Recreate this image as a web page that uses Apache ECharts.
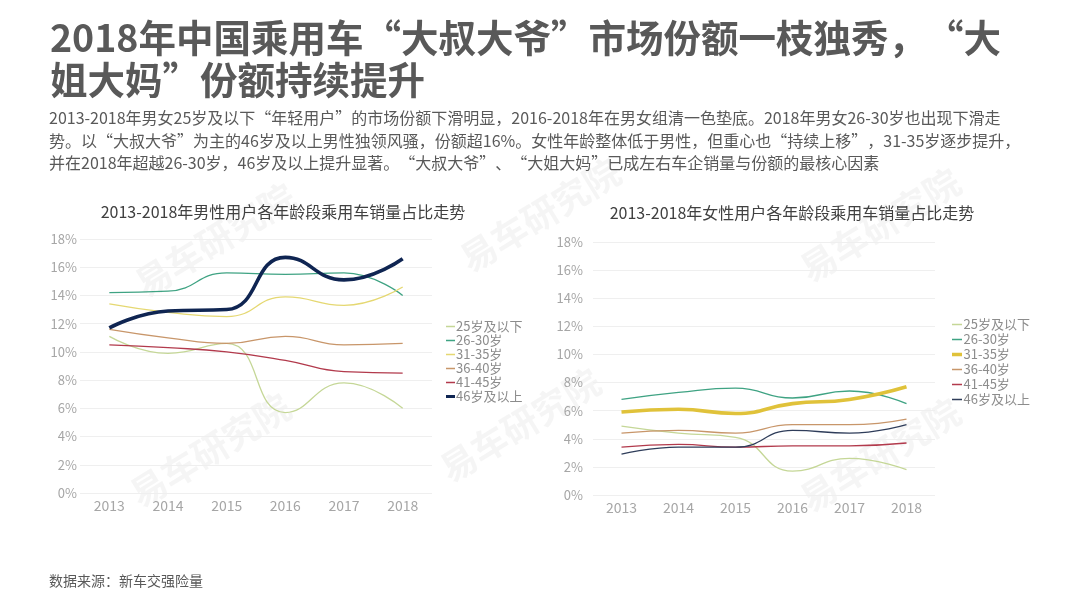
<!DOCTYPE html>
<html>
<head>
<meta charset="utf-8">
<script src="https://cdn.jsdelivr.net/npm/echarts@6/dist/echarts.min.js"></script>
<style>
html,body{margin:0;padding:0;background:#fff;}
#main{position:absolute;left:0;top:0;width:1080px;height:608px;}
#right{position:absolute;left:540px;top:0;width:540px;height:608px;}
</style>
</head>
<body>
<div id="main"></div>
<div id="right"></div>
<script>
// ---- data ----
var years = ['2013', '2014', '2015', '2016', '2017', '2018'];
var seriesNames = ['25岁及以下', '26-30岁', '31-35岁', '36-40岁', '41-45岁', '46岁及以上'];
// male share (%)
var male25 = [11.1, 9.9, 10.6, 5.7, 7.8, 6.0];
var male26 = [14.2, 14.3, 15.6, 15.5, 15.6, 14.0];
var male31 = [13.4, 12.8, 12.5, 13.9, 13.3, 14.6];
var male36 = [11.6, 11.0, 10.6, 11.1, 10.5, 10.6];
var male41 = [10.5, 10.3, 10.0, 9.4, 8.6, 8.5];
var male46 = [11.7, 12.9, 13.0, 16.7, 15.1, 16.6];
// female share (%)
var female25 = [4.9, 4.4, 4.1, 1.7, 2.6, 1.8];
var female26 = [6.8, 7.3, 7.6, 6.9, 7.4, 6.5];
var female31 = [5.9, 6.1, 5.8, 6.5, 6.8, 7.7];
var female36 = [4.4, 4.6, 4.4, 5.0, 5.0, 5.4];
var female41 = [3.4, 3.6, 3.4, 3.5, 3.5, 3.7];
var female46 = [2.9, 3.4, 3.4, 4.6, 4.4, 5.0];

var titleLines = ['2018年中国乘用车“大叔大爷”市场份额一枝独秀，“大', '姐大妈”份额持续提升'];
var subtitleLines = [
  '2013-2018年男女25岁及以下“年轻用户”的市场份额下滑明显，2016-2018年在男女组清一色垫底。2018年男女26-30岁也出现下滑走',
  '势。以“大叔大爷”为主的46岁及以上男性独领风骚，份额超16%。女性年龄整体低于男性，但重心也“持续上移”，31-35岁逐步提升，',
  '并在2018年超越26-30岁，46岁及以上提升显著。“大叔大爷”、“大姐大妈”已成左右车企销量与份额的最核心因素'
];
var chartTitleMale = '2013-2018年男性用户各年龄段乘用车销量占比走势';
var chartTitleFemale = '2013-2018年女性用户各年龄段乘用车销量占比走势';
var sourceText = '数据来源：新车交强险量';
var watermark = '易车研究院';

var FONT = '"Noto Sans CJK SC", "Noto Sans", sans-serif';
var maleColors = ['#c5d797', '#3fa383', '#e5d872', '#c8966a', '#b23a4c', '#0f2552'];
var femaleColors = ['#c5d797', '#3fa383', '#e0c23a', '#c8966a', '#b23a4c', '#2f3d5a'];
var maleWidths = [1.3, 1.3, 1.3, 1.3, 1.3, 3.6];
var femaleWidths = [1.3, 1.3, 3.6, 1.3, 1.3, 1.3];

// legend line icons (10x10 box; degenerate corners fix the box)
var ICON_THIN = 'path://M0,0L0.01,0L0.01,0.01ZM0,4.3L10,4.3L10,5.7L0,5.7ZM10,10L9.99,10L9.99,9.99Z';
var ICON_THICK = 'path://M0,0L0.01,0L0.01,0.01ZM0,3.3L10,3.3L10,6.7L0,6.7ZM10,10L9.99,10L9.99,9.99Z';

function makeSeries(datas, colors, widths) {
  return datas.map(function (d, i) {
    return {
      name: seriesNames[i], type: 'line', data: d, smooth: true, symbol: 'none',
      color: colors[i], lineStyle: { color: colors[i], width: widths[i] }, z: widths[i] > 2 ? 5 : 3
    };
  });
}
function axes(yMargin) {
  return {
    xAxis: {
      type: 'category', data: years, boundaryGap: true,
      axisLine: { show: false }, axisTick: { show: false },
      axisLabel: { color: '#a6a6a6', fontSize: 14, margin: 6, fontFamily: FONT }
    },
    yAxis: {
      type: 'value', min: 0, max: 18, interval: 2,
      axisLine: { show: false }, axisTick: { show: false },
      axisLabel: { formatter: '{value}%', color: '#a6a6a6', fontSize: 13, margin: yMargin, fontFamily: FONT },
      splitLine: { lineStyle: { color: '#efefef', width: 1 } }
    }
  };
}
function legendCfg(left, top, gap, widths, iconW) {
  return {
    orient: 'vertical', left: left, top: top, itemWidth: iconW, itemHeight: 10, itemGap: gap,
    textStyle: { color: '#8c8c8c', fontSize: 13, lineHeight: 10, fontFamily: FONT, padding: [0, 0, 0, -4] },
    data: seriesNames.map(function (n, i) {
      return { name: n, icon: widths[i] > 2 ? ICON_THICK : ICON_THIN };
    })
  };
}
function wm(x, y) {
  return { type: 'text', x: x, y: y, rotation: 0.55, z: -1, silent: true,
    style: { text: watermark, fill: 'rgba(160,160,160,0.10)', fontSize: 36, fontWeight: 'bold', fontFamily: FONT, align: 'center', verticalAlign: 'middle' } };
}

var graphics = [
  wm(215, 240), wm(210, 450), wm(540, 215), wm(520, 425), wm(880, 225), wm(880, 455),
  { type: 'text', x: 50, y: 38, style: { text: titleLines[0], fill: '#595959', fontSize: 37.5, fontWeight: 'bold', fontFamily: FONT, verticalAlign: 'middle' } },
  { type: 'text', x: 50, y: 80, style: { text: titleLines[1], fill: '#595959', fontSize: 37.5, fontWeight: 'bold', fontFamily: FONT, verticalAlign: 'middle' } }
];
subtitleLines.forEach(function (t, i) {
  graphics.push({ type: 'text', x: 49, y: 118 + i * 22.5, style: { text: t, fill: '#595959', fontSize: 16, fontFamily: FONT, verticalAlign: 'middle' } });
});
graphics.push({ type: 'text', x: 283, y: 212, style: { text: chartTitleMale, fill: '#404040', fontSize: 16, fontFamily: FONT, align: 'center', verticalAlign: 'middle' } });
graphics.push({ type: 'text', x: 792, y: 213, style: { text: chartTitleFemale, fill: '#404040', fontSize: 16, fontFamily: FONT, align: 'center', verticalAlign: 'middle' } });
graphics.push({ type: 'text', x: 49, y: 581, style: { text: sourceText, fill: '#595959', fontSize: 14, fontFamily: FONT, verticalAlign: 'middle' } });

var a1 = axes(3);
var mainChart = echarts.init(document.getElementById('main'), null, { renderer: 'canvas' });
mainChart.setOption({
  animation: false,
  textStyle: { fontFamily: FONT },
  grid: { left: 80, top: 239, width: 352, height: 254 },
  xAxis: a1.xAxis, yAxis: a1.yAxis,
  legend: legendCfg(441, 315, 1, maleWidths, 9),
  graphic: graphics,
  series: makeSeries([male25, male26, male31, male36, male41, male46], maleColors, maleWidths)
});

var a2 = axes(10);
var rightChart = echarts.init(document.getElementById('right'), null, { renderer: 'canvas' });
rightChart.setOption({
  animation: false,
  backgroundColor: 'transparent',
  textStyle: { fontFamily: FONT },
  grid: { left: 53, top: 242, width: 342, height: 253 },
  xAxis: a2.xAxis, yAxis: a2.yAxis,
  legend: legendCfg(407, 313, 2, femaleWidths, 11),
  series: makeSeries([female25, female26, female31, female36, female41, female46], femaleColors, femaleWidths)
});
</script>
</body>
</html>
